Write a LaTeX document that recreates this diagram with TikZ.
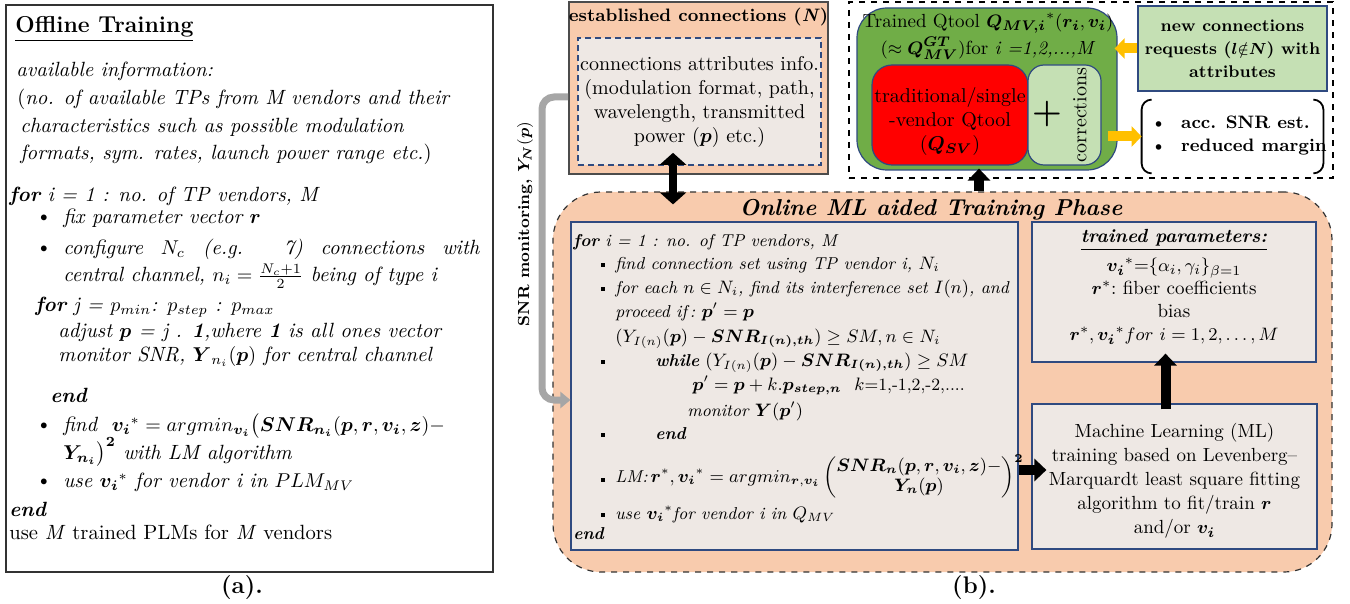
\documentclass[tikz,border=0pt]{standalone}
\usepackage{amsmath,amssymb}
\usetikzlibrary{arrows.meta,calc}
\definecolor{peachc}{HTML}{F8CBAD}
\definecolor{paperc}{HTML}{EEE8E4}
\definecolor{greenc}{HTML}{70AD47}
\definecolor{lgreenc}{HTML}{C5E0B4}
\definecolor{redc}{HTML}{FF0000}
\definecolor{yellowc}{HTML}{FFC000}
\definecolor{navyc}{HTML}{2F4A80}
\definecolor{grayarc}{HTML}{A6A6A6}
\newcommand{\bfm}[1]{\boldsymbol{#1}}
\tikzset{
  panel/.style   ={draw=black!80,line width=0.8pt,inner sep=0pt},
  peachbox/.style={draw=black!70,line width=0.8pt,fill=peachc,inner sep=0pt},
  infobox/.style ={draw=navyc,line width=0.6pt,fill=paperc,inner sep=0pt},
  ln/.style      ={anchor=mid west,inner sep=0pt,font=\fontsize{10.3}{12}\selectfont\itshape},
  aln/.style     ={anchor=mid west,inner sep=0pt,font=\fontsize{8.6}{10}\selectfont\itshape},
  sqdot/.style   ={fill=black,inner sep=0pt,minimum size=2.2pt},
  ctext/.style   ={align=center,inner sep=0pt,font=\fontsize{9.5}{12}\selectfont},
  captxt/.style  ={inner sep=0pt,font=\fontsize{12}{12}\selectfont\bfseries},
  blkar/.style   ={-{Triangle[length=6pt,width=11pt]},line width=5pt},
  dblar/.style   ={{Triangle[length=6pt,width=13pt]}-{Triangle[length=6pt,width=13pt]},line width=4pt},
  yelar/.style   ={-{Triangle[length=5pt,width=10pt]},line width=5pt,draw=yellowc},
  monar/.style   ={-{Triangle[length=5pt,width=8pt]},line width=3.5pt,draw=grayarc,rounded corners=6pt},
}
\begin{document}
\begin{tikzpicture}[x=0.5pt,y=-0.5pt]
  \useasboundingbox (0,0) rectangle (1350,604);

  % (a) offline training
  \node[panel,minimum width=243.5pt,minimum height=283.5pt] (offl) at (249.5,288.5) {};
  \node[ln,font=\fontsize{11.5}{13}\selectfont\bfseries] (offtitle) at (15,28) {\underline{Offline Training}};
  \foreach \y/\x/\txt [count=\k] in {
    72/16/{available information:},
    100/17/{\textup{(}no. of available TPs from M vendors and their},
    128/20/{characteristics such as possible modulation},
    155/20/{formats, sym. rates, launch power range etc.\textup{)}},
    197/9/{\textbf{for} i = 1 : no. of TP vendors, M},
    219/63/{fix parameter vector $\bfm{r}$},
    250/63/{\makebox[208pt][s]{configure $N_c$ (e.g. 7) connections with}},
    277/63/{central channel, $n_i=\frac{N_c+1}{2}$ being of type i},
    307/35/{\textbf{for} j = $p_{min}$: $p_{step}$ : $p_{max}$},
    333/58/{adjust $\bfm{p}$ = j . \textbf{1},where \textbf{1} is all ones vector},
    357/58/{monitor SNR, $\bfm{Y}_{n_i}(\bfm{p})$ for central channel},
    398/50/{\textbf{end}},
    427/63/{find\ \ $\bfm{v_i}^*=argmin_{\bfm{v_i}}\big(\bfm{SNR_{n_i}}(\bfm{p},\bfm{r},\bfm{v_i},\bfm{z})-$},
    455/63/{$\bfm{Y_{n_i}}\big)^{\bfm{2}}$ with LM algorithm},
    483/63/{use $\bfm{v_i}^*$ for vendor i in $PLM_{MV}$},
    512/9/{\textbf{end}},
    535/9/{\textup{use \textit{M} trained PLMs for \textit{M} vendors}}
  }{
    \node[ln] (off\k) at (\x,\y) {\txt};
  }
  \foreach \y [count=\k] in {219,250,427,483}{
    \node[inner sep=0pt] (odot\k) at (44,\y) {\textbullet};
  }
  \node[captxt] (capa) at (242,588) {(a).};

  % (b) established connections
  \node[peachbox,minimum width=129.5pt,minimum height=86pt] (est) at (698.5,88) {};
  \node[inner sep=0pt,font=\fontsize{9}{11}\selectfont\bfseries] (esttitle) at (698.5,17) {established connections (\textit{N})};
  \node[infobox,draw=navyc,densely dashed,minimum width=121.5pt,minimum height=63.5pt] (estin) at (699.5,101.5) {};
  \node[ctext,font=\fontsize{10}{12}\selectfont] (esttext) at (699.5,102)
    {connections attributes info.\\(modulation format, path,\\wavelength, transmitted\\power ($\bfm{p}$) etc.)};

  % trained Qtool
  \node[draw=black,dashed,line width=0.6pt,minimum width=242pt,minimum height=88pt] (qarea) at (1091,90) {};
  \node[draw=navyc,fill=greenc,rounded corners=15pt,line width=0.6pt,minimum width=130pt,minimum height=81pt] (qmv) at (987,89) {};
  \node[ctext,font=\fontsize{9.5}{13.5}\selectfont] (qmvtext) at (988,36.5)
    {Trained Qtool $\bfm{Q_{MV,i}}^*(\bfm{r_i},\bfm{v_i})$\\$(\approx\bfm{Q^{GT}_{MV}})$for \textit{i =1,2,...,M}};
  \node[draw=navyc,fill=redc,rounded corners=10pt,line width=0.6pt,minimum width=78pt,minimum height=50pt] (qsv) at (950,115) {};
  \node[draw=navyc,fill=lgreenc,rounded corners=8pt,line width=0.6pt,minimum width=36.5pt,minimum height=50pt] (corr) at (1064.5,115) {};
  \node[ctext,font=\fontsize{10}{12}\selectfont] (qsvtext) at (950,122) {traditional/single\\-vendor Qtool\\($\bfm{Q_{SV}}$)};
  \node[inner sep=0pt,font=\fontsize{17}{17}\selectfont\bfseries] (plus) at (1047,114) {+};
  \node[inner sep=0pt,rotate=90,font=\fontsize{10}{12}\selectfont] (corrtext) at (1080,115) {corrections};
  \node[draw=navyc,fill=lgreenc,line width=0.6pt,minimum width=94.5pt,minimum height=42.5pt] (newc) at (1232.5,48.5) {};
  \node[ctext,font=\fontsize{8.5}{11.5}\selectfont\bfseries] (newctext) at (1232.5,49)
    {new connections\\requests ($\bfm{l}{\notin}\bfm{N}$) with\\attributes};
  \node[minimum width=90.5pt,minimum height=36.5pt,inner sep=0pt] (gain) at (1232.5,136.5) {};
  \draw[line width=0.9pt,rounded corners=5pt] ([xshift=5pt]gain.north west) -- (gain.north west) -- (gain.south west) -- ([xshift=5pt]gain.south west);
  \draw[line width=0.9pt,rounded corners=5pt] ([xshift=-5pt]gain.north east) -- (gain.north east) -- (gain.south east) -- ([xshift=-5pt]gain.south east);
  \node[anchor=west,align=left,inner sep=0pt,font=\fontsize{9}{11.5}\selectfont\bfseries] (gaintext) at (1150,136)
    {\textbullet\ \ acc. SNR est.\\\textbullet\ \ reduced margin};

  % online phase
  \node[draw=black!80,dashed,fill=peachc,rounded corners=24pt,line width=0.6pt,minimum width=389.5pt,minimum height=190pt,inner sep=0pt] (online) at (942.5,382) {};
  \node[inner sep=0pt,font=\fontsize{11.5}{13}\selectfont\bfseries\itshape] (onlinetitle) at (931,210) {Online ML aided Training Phase};
  \node[infobox,minimum width=223.5pt,minimum height=164pt] (alg) at (794.5,386) {};
  \foreach \y/\x/\txt [count=\k] in {
    242/573/{\textbf{for} i = 1 : no. of TP vendors, M},
    265/615/{find connection set using TP vendor i, $N_i$},
    289/615/{for each $n\in N_i$, find its interference set $I(n)$, and},
    313/615/{proceed if\,:\ $\bfm{p}'=\bfm{p}$},
    338/615/{$(Y_{I(n)}(\bfm{p})-\bfm{SNR_{I(n),th}})\geq SM, n\in N_i$},
    362/655/{\textbf{while} $(Y_{I(n)}(\bfm{p})-\bfm{SNR_{I(n),th}})\geq SM$},
    386/692/{$\bfm{p}'=\bfm{p}+k.\bfm{p_{step,n}}$\ \ $k$\textup{=1,-1,2,-2,....}},
    412/687/{monitor $\bfm{Y}(\bfm{p}')$},
    435/655/{\textbf{end}},
    478/615/{LM:\,$\bfm{r}^*,\bfm{v_i}^*=argmin_{\bfm{r},\bfm{v_i}}\left(\begin{matrix}\bfm{SNR_n}(\bfm{p},\bfm{r},\bfm{v_i},\bfm{z})-\\\bfm{Y_n}(\bfm{p})\end{matrix}\right)^{\bfm{2}}$},
    515/615/{use $\bfm{v_i}^*$for vendor i in $Q_{MV}$},
    535/573/{\textbf{end}}
  }{
    \node[aln] (alg\k) at (\x,\y) {\txt};
  }
  \foreach \y [count=\k] in {265,289,362,435,480,515}{
    \node[sqdot] (adot\k) at (603,\y) {};
  }
  \node[infobox,minimum width=142pt,minimum height=70pt] (par) at (1174,292) {};
  \node[ctext,font=\fontsize{9.5}{11.5}\selectfont] (partext) at (1174,287)
    {\underline{\textbf{\textit{trained parameters:}}}\\[3pt]
     $\bfm{v_i}^*$=$\{\alpha_i,\gamma_i\}_{\beta=1}$\\
     $\bfm{r}^*$:\ fiber coefficients\\bias\\
     $\bfm{r}^*,\bfm{v_i}^*for\ i=1,2,\ldots,M$};
  \node[infobox,minimum width=142.5pt,minimum height=72.5pt] (ml) at (1174.5,476.5) {};
  \node[ctext] (mltext) at (1174.5,481)
    {Machine Learning (ML)\\training based on Levenberg--\\Marquardt least square fitting\\algorithm to fit/train $\bfm{r}$\\and/or $\bfm{v_i}$};
  \node[captxt] (capb) at (974,588) {(b).};

  % monitoring label
  \node[rotate=90,inner sep=0pt,font=\fontsize{8}{10}\selectfont\bfseries] (snrmon) at (525,224) {SNR monitoring, $\bfm{Y_N}(\bfm{p})$};

  % connectors
  \coordinate (mon) at ([yshift=-4.5pt]est.west);
  \coordinate (algin) at ([yshift=-7pt]alg.west);
  \coordinate (bend) at (542,0);
  \draw[monar] (mon) -| (bend |- algin) -- (algin);
  \coordinate (estdn) at ([xshift=-12.75pt]est.south);
  \draw[dblar,shorten <=-11pt,shorten >=-6.5pt] (estdn) -- (estdn |- online.north);
  \coordinate (qtip) at ([xshift=-4pt]qmv.south);
  \draw[blkar,shorten >=-1pt] (qtip |- online.north) -- (qtip);
  \coordinate (mltop) at ([xshift=-4.5pt]ml.north);
  \draw[blkar,shorten <=-3pt,shorten >=-4.5pt] (mltop) -- (mltop |- par.south);
  \coordinate (mlin) at ([yshift=3.25pt]ml.west);
  \draw[blkar,shorten >=-7.5pt] (alg.east |- mlin) -- (mlin);
  \draw[yelar,shorten >=-1.5pt] (newc.west) -- (newc.west -| qmv.east);
  \draw[yelar,shorten <=-5pt] (gain.west -| qmv.east) -- (gain.west);
\end{tikzpicture}
\end{document}
